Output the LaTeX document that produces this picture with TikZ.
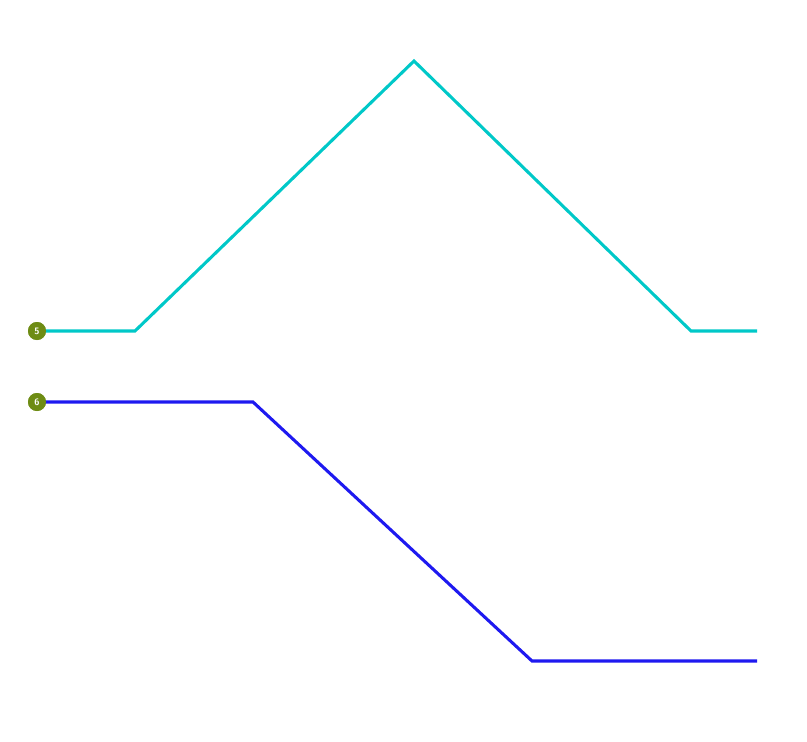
\documentclass[tikz,border=0pt]{standalone}
\usepackage{tikz}
\definecolor{tealline}{RGB}{0,200,200}
\definecolor{blueline}{RGB}{30,25,240}
\definecolor{olivemark}{RGB}{110,140,20}
\tikzset{
  marker/.style={circle,fill=olivemark,inner sep=0pt,minimum size=13.5pt,text=white,font=\sffamily\bfseries\scriptsize},
  track/.style={line width=2.3pt,line join=miter}
}

\begin{document}
\begin{tikzpicture}[x=0.75pt,y=-0.75pt]
  \useasboundingbox (0,0) rectangle (807,742);
  % upper route
  \coordinate (a1) at (135,331);
  \coordinate (a2) at (414,61);
  \coordinate (a3) at (691,331);
  \coordinate (a4) at (757,331);
  % lower route
  \coordinate (b1) at (253,402);
  \coordinate (b2) at (532,661);
  \coordinate (b3) at (757,661);
  \node[marker] (m5) at (37,331) {};
  \node[marker] (m6) at (37,402) {};
  \draw[track,tealline] (m5.center) -- (a1) -- (a2) -- (a3) -- (a4);
  \draw[track,blueline] (m6.center) -- (b1) -- (b2) -- (b3);
  \node[marker] at (m5) {5};
  \node[marker] at (m6) {6};
\end{tikzpicture}
\end{document}
